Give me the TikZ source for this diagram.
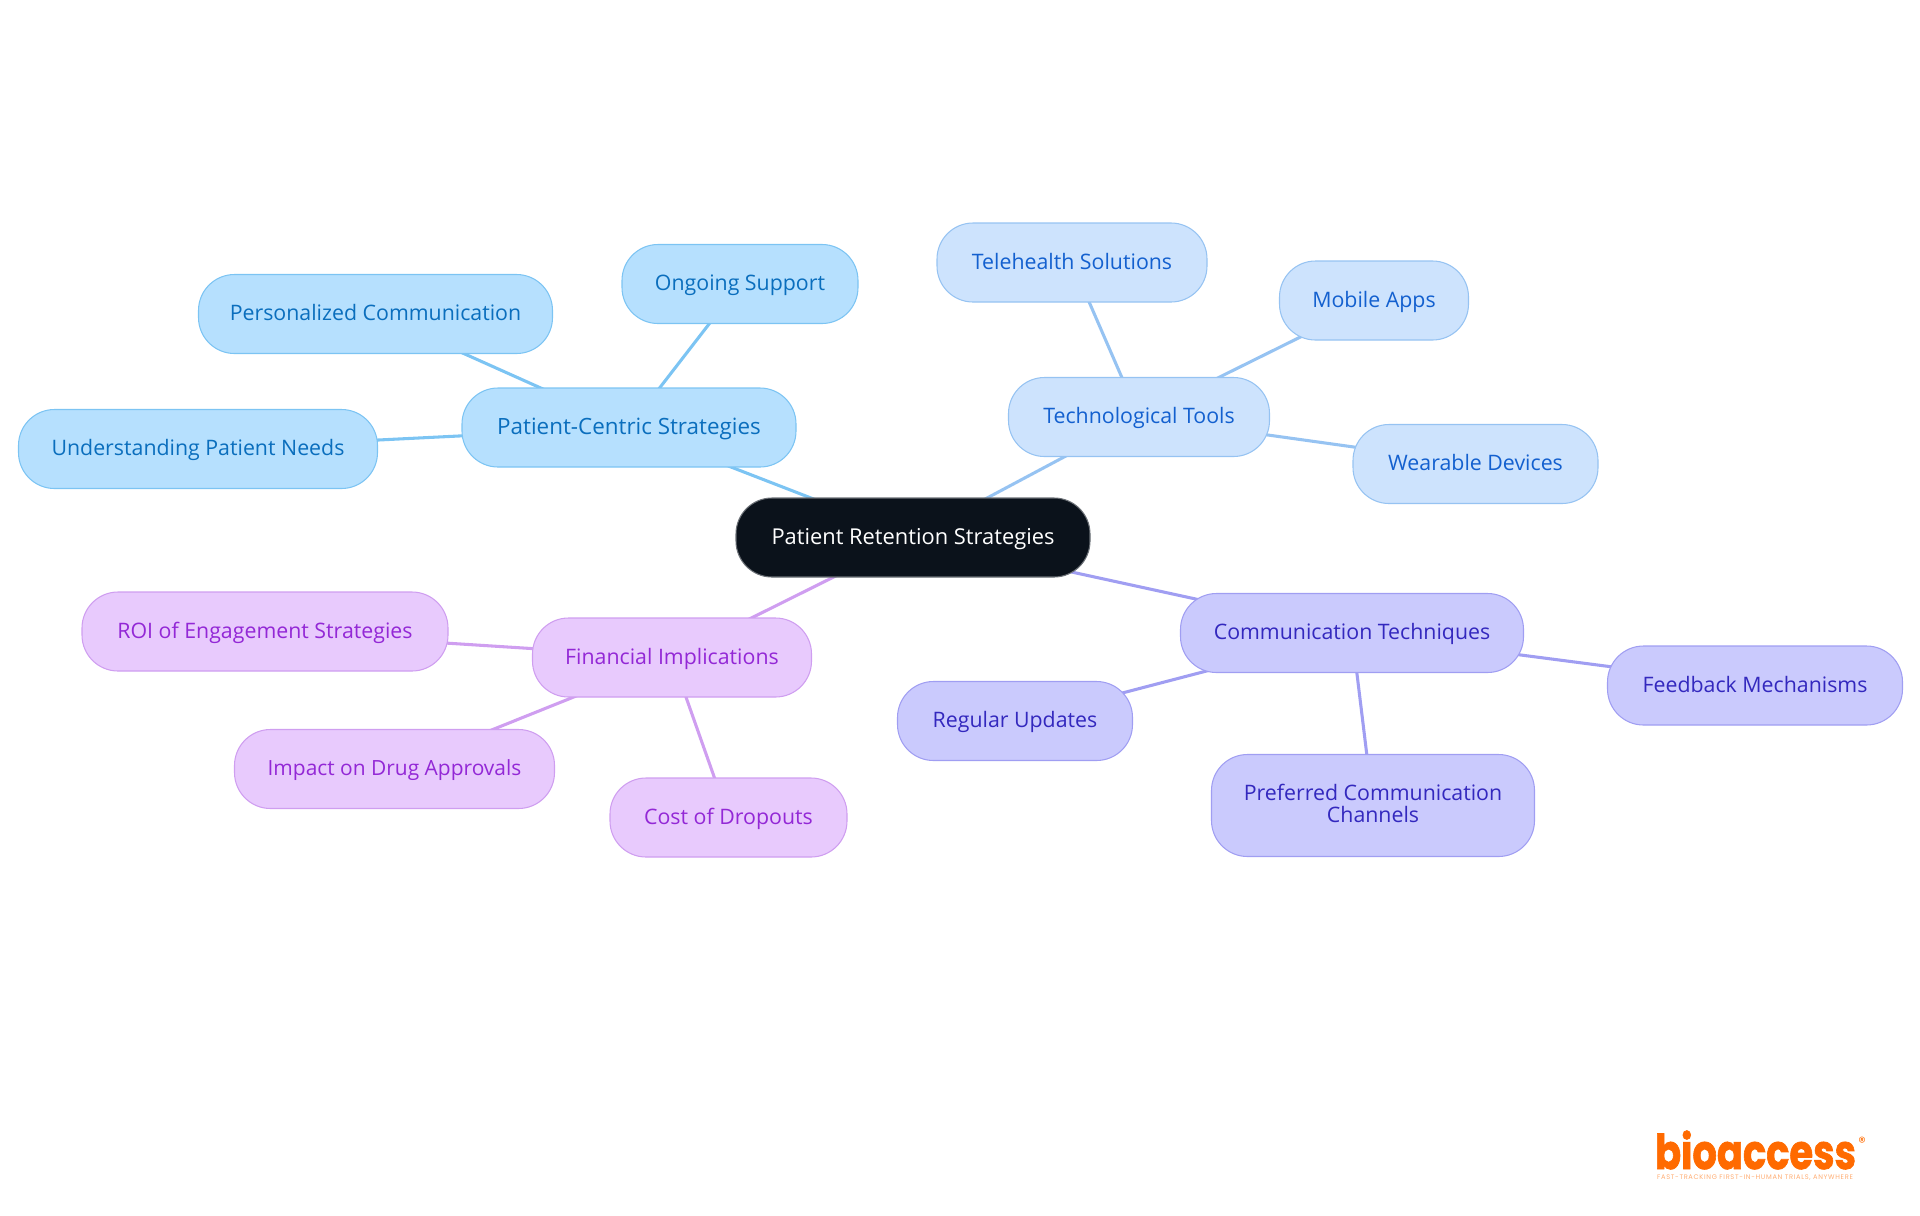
\documentclass[tikz,border=0pt]{standalone}
\usepackage{fontspec}
\setmainfont{Open Sans}
\newfontfamily\logofont[BoldFeatures={FakeBold=1.6}]{Poppins}
\usetikzlibrary{backgrounds}
\definecolor{rootfill}{HTML}{0B121B}
\definecolor{rootline}{HTML}{6B7076}
\definecolor{bluefill}{HTML}{B6E0FE}
\definecolor{blueline}{HTML}{7CC4F3}
\definecolor{bluetext}{HTML}{0A6EBD}
\definecolor{skyfill}{HTML}{CDE3FD}
\definecolor{skyline}{HTML}{96C3F2}
\definecolor{skytext}{HTML}{1360CF}
\definecolor{indfill}{HTML}{CACAFD}
\definecolor{indline}{HTML}{A09EF2}
\definecolor{indtext}{HTML}{3328BE}
\definecolor{purfill}{HTML}{E8CAFD}
\definecolor{purline}{HTML}{CF9EF0}
\definecolor{purtext}{HTML}{9328D6}
\definecolor{logoorange}{HTML}{FF6A00}
\tikzset{
  x=0.75pt,y=-0.75pt,
  mm/.style={rectangle,rounded corners=27pt,line width=0.8pt,inner sep=0pt,align=center,text height=12.3pt,text depth=2.5pt,font=\fontsize{16}{17}\selectfont},
  rootnode/.style={mm,fill=rootfill,draw=rootline,text=white,font=\fontsize{16.4}{17}\selectfont},
  bluenode/.style={mm,fill=bluefill,draw=blueline,text=bluetext},
  skynode/.style={mm,fill=skyfill,draw=skyline,text=skytext},
  indnode/.style={mm,fill=indfill,draw=indline,text=indtext},
  purnode/.style={mm,fill=purfill,draw=purline,text=purtext},
  link/.style={line width=2.3pt},
  box/.style args={#1/#2}{minimum width=#1*0.75pt,minimum height=#2*0.75pt},
}
\begin{document}
\begin{tikzpicture}
\useasboundingbox (0,0) rectangle (1920,1215);
\node[rootnode,box=354/79] (root) at (913,537.5) {Patient Retention Strategies};
\node[bluenode,box=334/79,font=\fontsize{16.8}{17}\selectfont] (pc) at (629,427.5) {Patient-Centric Strategies};
\node[bluenode,box=359/79] (un) at (198,449) {Understanding Patient Needs};
\node[bluenode,box=354/79] (pe) at (375.5,314) {Personalized Communication};
\node[bluenode,box=236/79] (on) at (740,284) {Ongoing Support};
\node[skynode,box=261/79] (te) at (1139,417) {Technological Tools};
\node[skynode,box=270/79] (th) at (1072,262.5) {Telehealth Solutions};
\node[skynode,box=189/79] (mo) at (1374,300.5) {Mobile Apps};
\node[skynode,box=245/79] (we) at (1475.5,464) {Wearable Devices};
\node[indnode,box=343/79] (co) at (1352,633) {Communication Techniques};
\node[indnode,box=295/79] (fe) at (1755,685.5) {Feedback Mechanisms};
\node[indnode,box=235/79] (re) at (1015,721) {Regular Updates};
\node[indnode,box=323/102,text height=28.3pt] (pr) at (1373,805.5) {Preferred Communication\\Channels};
\node[purnode,box=279/79] (fi) at (672,657.5) {Financial Implications};
\node[purnode,box=366/79] (ro) at (265,631.5) {ROI of Engagement Strategies};
\node[purnode,box=320/79,font=\fontsize{15.7}{17}\selectfont] (im) at (394.5,769) {Impact on Drug Approvals};
\node[purnode,box=237/79] (cs) at (728.5,817.5) {Cost of Dropouts};
\begin{scope}[on background layer]
\draw[link,blueline] (root.center) -- (pc.center);
\draw[link,blueline] (pc.center) -- (un.center);
\draw[link,blueline] (pc.center) -- (pe.center);
\draw[link,blueline] (pc.center) -- (on.center);
\draw[link,skyline] (root.center) -- (te.center);
\draw[link,skyline] (te.center) -- (th.center);
\draw[link,skyline] (te.center) -- (mo.center);
\draw[link,skyline] (te.center) -- (we.center);
\draw[link,indline] (root.center) -- (co.center);
\draw[link,indline] (co.center) -- (fe.center);
\draw[link,indline] (co.center) -- (re.center);
\draw[link,indline] (co.center) -- (pr.center);
\draw[link,purline] (root.center) -- (fi.center);
\draw[link,purline] (fi.center) -- (ro.center);
\draw[link,purline] (fi.center) -- (im.center);
\draw[link,purline] (fi.center) -- (cs.center);
\end{scope}
\node[anchor=base,inner sep=0pt,text=logoorange,font=\logofont\bfseries\fontsize{36}{36}\selectfont] (logo) at (1755.5,1169) {\scalebox{0.8}[1]{bioaccess}};
\node[inner sep=0pt,text=logoorange,font=\logofont\fontsize{11}{11}\selectfont] (reg) at (1862,1142) {®};
\node[inner sep=0pt,text=logoorange!55,font=\logofont\fontsize{5}{6}\selectfont\addfontfeatures{LetterSpace=10}] (tag) at (1755,1177.5) {FAST-TRACKING FIRST-IN-HUMAN TRIALS, ANYWHERE};
\end{tikzpicture}
\end{document}
